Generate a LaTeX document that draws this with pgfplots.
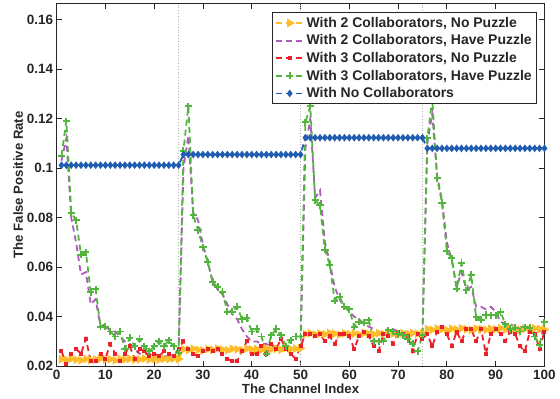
\documentclass[border=0pt]{standalone}
\usepackage{fontspec}
\setmainfont{Liberation Sans}
\usepackage{pgfplots}
\pgfplotsset{compat=1.18}
\usepackage{pgfplotstable}

\definecolor{cyel}{RGB}{255,188,40}
\definecolor{cpur}{RGB}{172,92,186}
\definecolor{cred}{RGB}{236,32,40}
\definecolor{cgrn}{RGB}{82,182,62}
\definecolor{cblu}{RGB}{32,92,176}

% x, a = 2 collab no puzzle, b = 2 collab puzzle, c = 3 collab no puzzle, d = 3 collab puzzle, e = no collab
\pgfplotstableread{
x   a      b      c      d      e
1   0.0228 0.103  0.026  0.105  0.1012
2   0.0225 0.112  0.021  0.119  0.1012
3   0.0230 0.080  0.025  0.082  0.1012
4   0.0226 0.070  0.027  0.079  0.1012
5   0.0224 0.057  0.025  0.065  0.1012
6   0.0229 0.058  0.031  0.066  0.1012
7   0.0225 0.045  0.022  0.050  0.1012
8   0.0227 0.047  0.022  0.051  0.1012
9   0.0231 0.036  0.025  0.036  0.1012
10  0.0226 0.037  0.023  0.036  0.1012
11  0.0228 0.034  0.029  0.034  0.1012
12  0.0224 0.034  0.025  0.032  0.1012
13  0.0229 0.032  0.022  0.034  0.1012
14  0.0227 0.030  0.025  0.027  0.1012
15  0.0230 0.029  0.028  0.0315 0.1012
16  0.0226 0.027  0.023  0.028  0.1012
17  0.0228 0.025  0.027  0.031  0.1012
18  0.0231 0.025  0.026  0.028  0.1012
19  0.0227 0.025  0.024  0.026  0.1012
20  0.0229 0.025  0.025  0.028  0.1012
21  0.0226 0.024  0.024  0.030  0.1012
22  0.0230 0.024  0.026  0.028  0.1012
23  0.0228 0.024  0.025  0.0305 0.1012
24  0.0231 0.023  0.024  0.028  0.1012
25  0.0229 0.023  0.027  0.0255 0.1012
26  0.0268 0.100  0.030  0.107  0.1055
27  0.0265 0.113  0.027  0.125  0.1055
28  0.0270 0.082  0.025  0.081  0.1055
29  0.0266 0.079  0.024  0.075  0.1055
30  0.0263 0.069  0.026  0.068  0.1055
31  0.0269 0.062  0.027  0.062  0.1055
32  0.0266 0.054  0.026  0.054  0.1055
33  0.0271 0.051  0.027  0.052  0.1055
34  0.0267 0.049  0.025  0.050  0.1055
35  0.0264 0.045  0.023  0.042  0.1055
36  0.0270 0.041  0.022  0.042  0.1055
37  0.0268 0.039  0.022  0.044  0.1055
38  0.0265 0.035  0.026  0.039  0.1055
39  0.0271 0.032  0.030  0.0395 0.1055
40  0.0267 0.030  0.025  0.034  0.1055
41  0.0269 0.030  0.025  0.035  0.1055
42  0.0266 0.029  0.028  0.032  0.1055
43  0.0272 0.029  0.025  0.025  0.1055
44  0.0268 0.028  0.029  0.0325 0.1055
45  0.0270 0.028  0.027  0.035  0.1055
46  0.0267 0.028  0.031  0.0325 0.1055
47  0.0273 0.027  0.027  0.028  0.1055
48  0.0269 0.027  0.025  0.0305 0.1055
49  0.0271 0.027  0.023  0.032  0.1055
50  0.0272 0.026  0.028  0.032  0.1055
51  0.0330 0.108  0.033  0.1185 0.1123
52  0.0333 0.120  0.033  0.125  0.1123
53  0.0328 0.088  0.032  0.087  0.1123
54  0.0332 0.091  0.033  0.085  0.1123
55  0.0329 0.070  0.030  0.067  0.1123
56  0.0334 0.062  0.032  0.061  0.1123
57  0.0331 0.052  0.029  0.0465 0.1123
58  0.0327 0.047  0.033  0.048  0.1123
59  0.0333 0.044  0.033  0.044  0.1123
60  0.0330 0.042  0.032  0.043  0.1123
61  0.0332 0.040  0.027  0.036  0.1123
62  0.0328 0.039  0.032  0.038  0.1123
63  0.0334 0.037  0.034  0.0375 0.1123
64  0.0331 0.036  0.032  0.0385 0.1123
65  0.0329 0.035  0.028  0.030  0.1123
66  0.0333 0.034  0.026  0.030  0.1123
67  0.0330 0.033  0.033  0.030  0.1123
68  0.0335 0.034  0.032  0.0345 0.1123
69  0.0331 0.035  0.029  0.034  0.1123
70  0.0328 0.034  0.034  0.033  0.1123
71  0.0333 0.033  0.033  0.0325 0.1123
72  0.0330 0.034  0.032  0.031  0.1123
73  0.0334 0.033  0.026  0.029  0.1123
74  0.0331 0.033  0.033  0.026  0.1123
75  0.0332 0.033  0.031  0.0325 0.1123
76  0.0350 0.110  0.033  0.112  0.1080
77  0.0347 0.122  0.028  0.128  0.1080
78  0.0352 0.097  0.034  0.096  0.1080
79  0.0349 0.087  0.036  0.086  0.1080
80  0.0346 0.070  0.033  0.0665 0.1080
81  0.0351 0.063  0.028  0.0636 0.1080
82  0.0348 0.052  0.034  0.0513 0.1080
83  0.0353 0.058  0.030  0.0616 0.1080
84  0.0349 0.051  0.035  0.0506 0.1080
85  0.0346 0.052  0.035  0.0568 0.1080
86  0.0352 0.044  0.030  0.0397 0.1080
87  0.0350 0.044  0.035  0.0388 0.1080
88  0.0347 0.043  0.025  0.0407 0.1080
89  0.0351 0.044  0.033  0.0405 0.1080
90  0.0349 0.042  0.035  0.0405 0.1080
91  0.0353 0.038  0.033  0.0419 0.1080
92  0.0348 0.037  0.030  0.0369 0.1080
93  0.0350 0.037  0.034  0.0350 0.1080
94  0.0352 0.036  0.033  0.0355 0.1080
95  0.0347 0.036  0.028  0.0340 0.1080
96  0.0351 0.035  0.026  0.0357 0.1080
97  0.0349 0.035  0.034  0.0355 0.1080
98  0.0353 0.034  0.033  0.0320 0.1080
99  0.0350 0.034  0.027  0.0286 0.1080
100 0.0348 0.035  0.034  0.0377 0.1080
}\data

\begin{document}
\begin{tikzpicture}
\begin{axis}[
    width=487bp, height=362bp, scale only axis,
    xmin=0, xmax=100, ymin=0.02, ymax=0.1665,
    xtick={0,10,20,30,40,50,60,70,80,90,100},
    ytick={0.02,0.04,0.06,0.08,0.1,0.12,0.14,0.16},
    tick align=inside, major tick length=5bp,
    /pgf/number format/assume math mode=true,
    yticklabel style={/pgf/number format/fixed, /pgf/number format/precision=2},
    ticklabel style={font=\fontsize{13.5}{15}\selectfont\bfseries, text=black!85},
    xlabel={The Channel Index}, ylabel={The False Positive Rate},
    label style={font=\fontsize{13.2}{15}\selectfont\bfseries, text=black!85},
    xlabel style={yshift=2bp},
    ylabel style={yshift=-3bp},
    axis line style={line width=1.1bp, black!85},
    every tick/.style={black!85, line width=0.8bp},
    legend style={at={(rel axis cs:0.984,0.976)}, anchor=north east,
        font=\fontsize{14}{16}\selectfont\bfseries, text=black!85,
        draw=black!85, line width=0.9bp, inner sep=2.5bp, row sep=2bp,
        cells={anchor=west}},
    legend image code/.code={\draw[mark repeat=2, mark phase=2, #1]
        plot coordinates {(0bp,0bp) (14bp,0bp) (28bp,0bp)};},
    mline/.style={dash pattern=on 6bp off 4bp, line width=1.8bp},
]
\addplot[gray!60, dotted, line width=0.8bp, forget plot] coordinates {(25,0.02) (25,0.1665)};
\addplot[gray!60, dotted, line width=0.8bp, forget plot] coordinates {(50,0.02) (50,0.1665)};
\addplot[gray!60, dotted, line width=0.8bp, forget plot] coordinates {(75,0.02) (75,0.1665)};

\addplot[cyel, mline, mark=triangle*, mark size=3.3bp, mark options={solid, rotate=-90, fill=cyel}]
    table[x=x, y=a] {\data};
\addplot[cpur, mline, mark=none] table[x=x, y=b] {\data};
\addplot[cred, mline, mark=square*, mark size=1.1bp, mark options={solid}] table[x=x, y=c] {\data};
\addplot[cgrn, mline, mark=+, mark size=3.6bp, mark options={solid, line width=1.9bp}] table[x=x, y=d] {\data};
\addplot[cblu, mline, mark=diamond*, mark size=2.4bp, mark options={solid}] table[x=x, y=e] {\data};

\legend{{With 2 Collaborators, No Puzzle}, {With 2 Collaborators, Have Puzzle},
    {With 3 Collaborators, No Puzzle}, {With 3 Collaborators, Have Puzzle},
    {With No Collaborators}}
\end{axis}
\path ([shift={(-10bp,-1bp)}]current bounding box.south west)
      ([shift={(1bp,3bp)}]current bounding box.north east);
\end{tikzpicture}
\end{document}
